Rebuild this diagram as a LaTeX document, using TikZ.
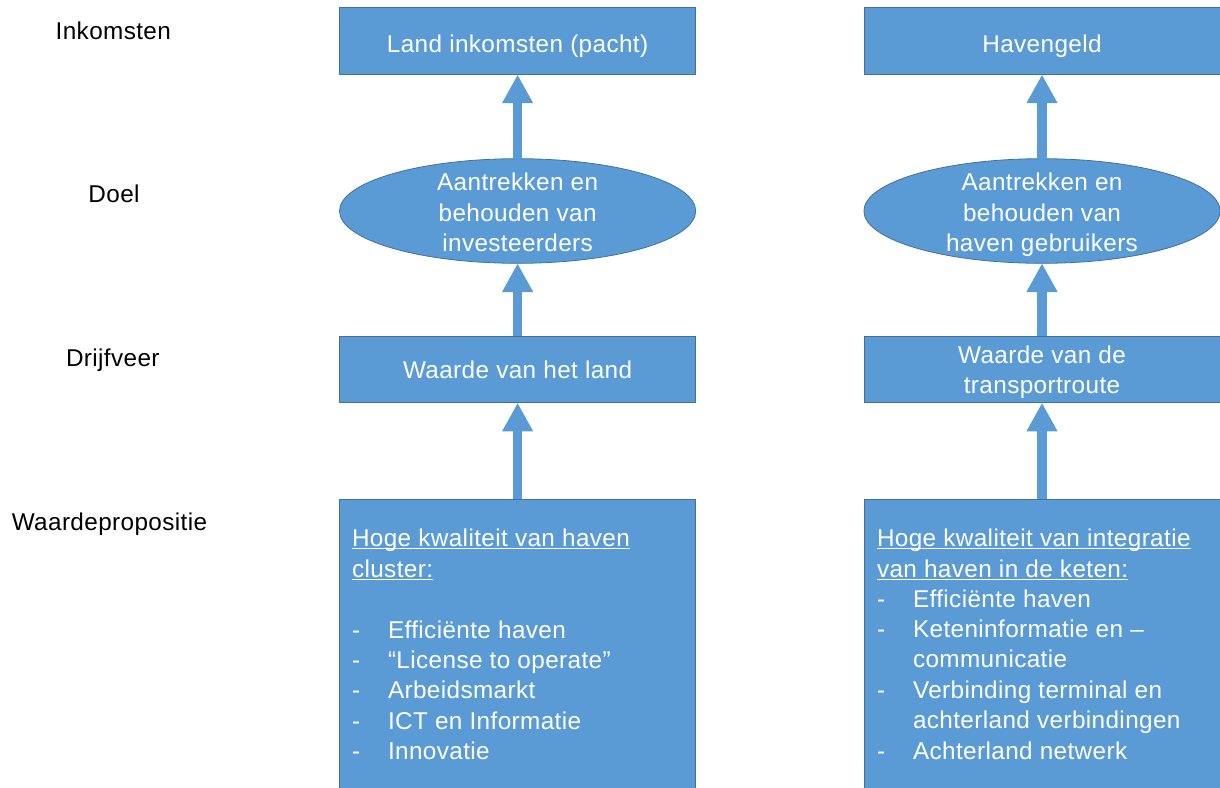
\documentclass[tikz,border=0pt]{standalone}
\usepackage{fontspec}
\setmainfont{Liberation Sans}[LetterSpace=1.6]
\usetikzlibrary{arrows.meta,shapes.geometric}
\definecolor{boxfill}{HTML}{5B9BD5}
\definecolor{boxline}{HTML}{41719C}
% underline drawn as a thin rule just below the baseline
\newcommand\headline[1]{\setbox0\hbox{#1}\rlap{\rule[-3.2pt]{\wd0}{1.3pt}}\box0}

\begin{document}
\begin{tikzpicture}[x=1pt,y=-1pt,
  every node/.style={font=\fontsize{24.3}{30.5}\selectfont, inner sep=0pt, outer sep=0pt},
  blockbox/.style={draw=boxline, fill=boxfill, line width=0.8pt, rectangle, minimum width=356.2pt},
  goalshape/.style={draw=boxline, fill=boxfill, line width=0.8pt, ellipse,
    minimum width=356.2pt, minimum height=104.6pt},
  wtext/.style={text=white, anchor=base},
  ltext/.style={text=white, anchor=base west},
  rowlabel/.style={text=black, anchor=base},
  uparrow/.style={draw=boxfill, line width=9.4pt, -{Triangle[width=29pt,length=28.7pt]}}
]
\useasboundingbox (0,0) rectangle (1220,787);
\clip (0,0) rectangle (1220,787);

% row labels
\node[rowlabel] (lInk)  at (113.3,39)  {Inkomsten};
\node[rowlabel] (lDoel) at (114,202.3) {Doel};
\node[rowlabel] (lDrv)  at (112.8,366) {Drijfveer};
\node[rowlabel] (lWp)   at (109.5,530) {Waardepropositie};

% ---------- left column: land ----------
\node[blockbox, minimum height=67pt]  (incL)  at (517.6,41)    {};
\node[goalshape]                       (goalL) at (517.6,211)   {};
\node[blockbox, minimum height=66.7pt] (drvL)  at (517.6,369.4) {};
\node[blockbox, minimum height=310pt]  (propL) at (517.6,654.3) {};

\draw[uparrow] (propL.north) -- (drvL.south);
\draw[uparrow] (drvL.north)  -- (goalL.south);
\draw[uparrow] (goalL.north) -- (incL.south);

\node[wtext] (tIncL) at (517.6,52) {Land inkomsten (pacht)};
\node[wtext] (tGoalL1) at (517.6,190) {Aantrekken en};
\node[wtext] (tGoalL2) at (517.6,221) {behouden van};
\node[wtext] (tGoalL3) at (517.6,251) {investeerders};
\node[wtext] (tDrvL) at (517.6,378) {Waarde van het land};

\node[ltext] (pL1) at (352,546) {\headline{Hoge kwaliteit van haven}};
\node[ltext] (pL2) at (352,577) {\headline{cluster:}};
\foreach \y/\t [count=\i] in {638/{Efficiënte haven},668/{“License to operate”},698/{Arbeidsmarkt},729/{ICT en Informatie},759/{Innovatie}}{
  \node[ltext] (dL\i) at (352,\y) {-};
  \node[ltext] (iL\i) at (388,\y) {\t};
}

% ---------- right column: havens ----------
\node[blockbox, minimum height=67pt]  (incR)  at (1042,41)    {};
\node[goalshape]                       (goalR) at (1042,211)   {};
\node[blockbox, minimum height=66.7pt] (drvR)  at (1042,369.4) {};
\node[blockbox, minimum height=310pt]  (propR) at (1042,654.3) {};

\draw[uparrow] (propR.north) -- (drvR.south);
\draw[uparrow] (drvR.north)  -- (goalR.south);
\draw[uparrow] (goalR.north) -- (incR.south);

\node[wtext] (tIncR) at (1042,52) {Havengeld};
\node[wtext] (tGoalR1) at (1042,190) {Aantrekken en};
\node[wtext] (tGoalR2) at (1042,221) {behouden van};
\node[wtext] (tGoalR3) at (1042,251) {haven gebruikers};
\node[wtext] (tDrvR1) at (1042,363) {Waarde van de};
\node[wtext] (tDrvR2) at (1042,393) {transportroute};

\node[ltext] (pR1) at (877,546) {\headline{Hoge kwaliteit van integratie}};
\node[ltext] (pR2) at (877,577) {\headline{van haven in de keten:}};
\foreach \y [count=\i] in {607,637,698,759}{
  \node[ltext] (dR\i) at (877,\y) {-};
}
\node[ltext] (iR1) at (913,607) {Efficiënte haven};
\node[ltext] (iR2) at (913,637) {Keteninformatie en –};
\node[ltext] (iR3) at (913,667) {communicatie};
\node[ltext] (iR4) at (913,698) {Verbinding terminal en};
\node[ltext] (iR5) at (913,728) {achterland verbindingen};
\node[ltext] (iR6) at (913,759) {Achterland netwerk};
\end{tikzpicture}
\end{document}
